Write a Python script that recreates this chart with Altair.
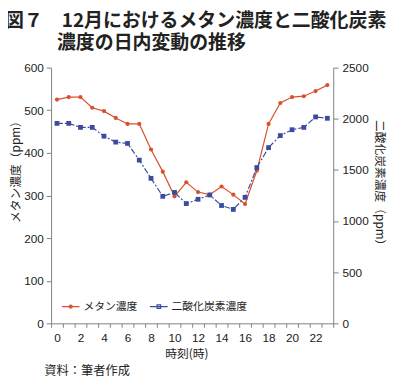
import altair as alt
import pandas as pd

hours = list(range(24))
methane = [525, 531, 531, 506, 498, 482, 468, 468, 408, 356, 298, 331,
           308, 302, 321, 302, 280, 358, 468, 517, 531, 533, 545, 559]
co2 = [1955, 1955, 1916, 1916, 1830, 1772, 1759, 1596, 1418, 1242, 1280, 1171,
       1213, 1255, 1152, 1114, 1232, 1523, 1718, 1836, 1893, 1916, 2018, 2005]
series_names = ["メタン濃度", "二酸化炭素濃度"]
left_ticks = [0, 100, 200, 300, 400, 500, 600]
right_ticks = [0, 500, 1000, 1500, 2000, 2500]
hour_labels = list(range(0, 24, 2))
hour_bounds = [h - 0.5 for h in range(25)]
title_lines = ["図７　12月におけるメタン濃度と二酸化炭素", "濃度の日内変動の推移"]
source_text = ["資料：筆者作成"]

RED = "#d9512c"
BLUE = "#3c4b9e"
AXIS = "#808080"
TXT = "#222222"
JP = "Noto Sans CJK JP"
NUM = "Liberation Sans"

df = pd.DataFrame({"hour": hours, "methane": methane, "co2": co2})
xscale = alt.Scale(domain=[-0.5, 23.5], nice=False, zero=False)

x_ticks = alt.X("hour:Q", scale=xscale,
                axis=alt.Axis(orient="bottom", values=hour_bounds, labels=False,
                              tickSize=4, domainColor=AXIS, tickColor=AXIS,
                              grid=False, title=None))
x_labels = alt.X("hour:Q", scale=xscale,
                 axis=alt.Axis(orient="bottom", values=hour_labels, ticks=False,
                               domain=False, grid=False, labelPadding=10,
                               labelFont=NUM, labelFontSize=12, labelColor=TXT,
                               title="時刻(時)", titleFont=JP,
                               titleFontSize=12, titleFontWeight="normal",
                               titleColor=TXT, titlePadding=5,
                               titleX=138, titleAlign="center"))

m_layer = alt.Chart(df).mark_line(
    color=RED, strokeWidth=1.2,
    point=alt.OverlayMarkDef(filled=True, color=RED, size=18, shape="circle"),
).encode(
    x=x_ticks,
    y=alt.Y("methane:Q", scale=alt.Scale(domain=[0, 600], nice=False),
            axis=alt.Axis(orient="left", values=left_ticks, format="d",
                          tickSize=5, grid=False, domainColor=AXIS,
                          tickColor=AXIS, labelFont=NUM, labelFontSize=12,
                          labelColor=TXT, labelPadding=3,
                          title="メタン濃度（ppm）", titleFont=JP,
                          titleFontSize=12, titleFontWeight="normal",
                          titleColor=TXT, titleX=-36, titleY=103,
                          titleAngle=270, titleBaseline="middle",
                          titleAlign="center")),
)

c_layer = alt.Chart(df).mark_line(
    color=BLUE, strokeWidth=1.2, strokeDash=[6, 2, 2, 2],
    point=alt.OverlayMarkDef(filled=True, color=BLUE, size=24, shape="square"),
).encode(
    x=x_labels,
    y=alt.Y("co2:Q", scale=alt.Scale(domain=[0, 2500], nice=False),
            axis=alt.Axis(orient="right", values=right_ticks, format="d",
                          tickSize=5, grid=False, domainColor=AXIS,
                          tickColor=AXIS, labelFont=NUM, labelFontSize=12,
                          labelColor=TXT, labelPadding=4,
                          title="二酸化炭素濃度（ppm）", titleAngle=90,
                          titleFont=JP, titleFontSize=12,
                          titleFontWeight="normal", titleColor=TXT,
                          titleX=47, titleY=120, titleBaseline="middle",
                          titleAlign="center")),
)

dot_path = "M-1,0H1M0.17,0A0.17,0.17,0,1,1,-0.17,0A0.17,0.17,0,1,1,0.17,0Z"
sq_path = "M-1,0H1M-0.2,-0.2H0.2V0.2H-0.2Z"
legend_def = alt.Legend(orient="none", legendX=10, legendY=234,
                        direction="horizontal", title=None, padding=0,
                        symbolSize=324, symbolStrokeWidth=1.2,
                        labelFont=JP, labelFontSize=11, labelColor=TXT,
                        labelOffset=3, columnPadding=10)
leg_df = pd.DataFrame({"series": series_names})
legend_layer = alt.Chart(leg_df).mark_point(opacity=0).encode(
    shape=alt.Shape("series:N",
                    scale=alt.Scale(domain=series_names, range=[dot_path, sq_path]),
                    legend=legend_def),
    fill=alt.Fill("series:N",
                  scale=alt.Scale(domain=series_names, range=[RED, BLUE]),
                  legend=legend_def),
    stroke=alt.Stroke("series:N",
                      scale=alt.Scale(domain=series_names, range=[RED, BLUE]),
                      legend=legend_def),
).transform_filter("false")

title1 = alt.Chart(pd.DataFrame({"t": title_lines[:1]})).mark_text(
    align="left", baseline="middle", font=JP, fontSize=19.3,
    fontWeight="bold", color=TXT
).encode(text="t:N", x=alt.value(-47), y=alt.value(-48))
title2 = alt.Chart(pd.DataFrame({"t": title_lines[1:]})).mark_text(
    align="left", baseline="middle", font=JP, fontSize=19.3,
    fontWeight="bold", color=TXT
).encode(text="t:N", x=alt.value(6), y=alt.value(-25))

source = alt.Chart(pd.DataFrame({"t": source_text})).mark_text(
    align="left", baseline="middle", font=JP, fontSize=12.5, color=TXT
).encode(text="t:N", x=alt.value(-7), y=alt.value(310))

chart = alt.layer(m_layer, c_layer, legend_layer, title1, title2, source).resolve_scale(
    y="independent"
).resolve_axis(
    x="independent", y="independent"
).properties(
    width=288, height=261,
    autosize=alt.AutoSizeParams(type="none"),
    padding={"left": 44, "top": 57, "right": 60, "bottom": 56},
).configure_view(stroke=None)

chart.save("out.html", embed_options={"renderer": "svg", "actions": False})
